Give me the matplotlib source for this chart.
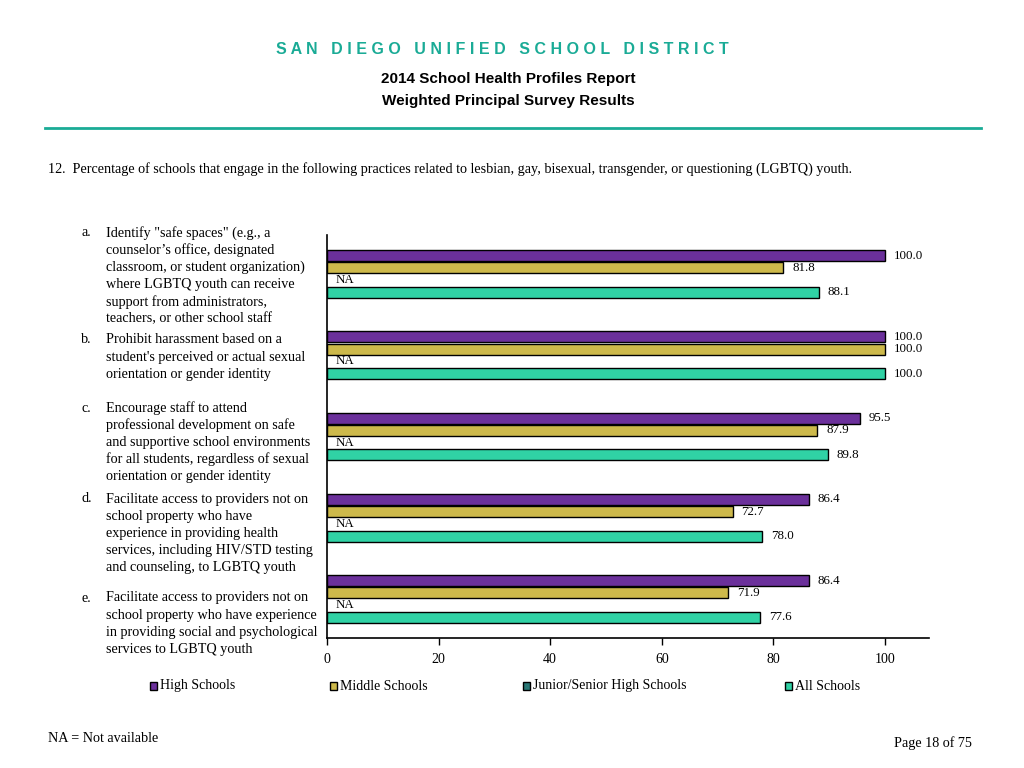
import matplotlib
matplotlib.use("Agg")
import matplotlib.pyplot as plt
from matplotlib.patches import Rectangle
from matplotlib.lines import Line2D

# ---- data ----
series = ["High Schools", "Middle Schools", "Junior/Senior High Schools", "All Schools"]
colors = ["#6b309b", "#cdb94b", "#2a7876", "#30d2a5"]
high_schools = [100.0, 100.0, 95.5, 86.4, 86.4]
middle_schools = [81.8, 100.0, 87.9, 72.7, 71.9]
junior_senior = [None, None, None, None, None]  # NA
all_schools = [88.1, 100.0, 89.8, 78.0, 77.6]
item_letters = ["a.", "b.", "c.", "d.", "e."]
item_lines = [
    ['Identify "safe spaces" (e.g., a', "counselor\u2019s office, designated",
     "classroom, or student organization)", "where LGBTQ youth can receive",
     "support from administrators,", "teachers, or other school staff"],
    ["Prohibit harassment based on a", "student's perceived or actual sexual",
     "orientation or gender identity"],
    ["Encourage staff to attend", "professional development on safe",
     "and supportive school environments", "for all students, regardless of sexual",
     "orientation or gender identity"],
    ["Facilitate access to providers not on", "school property who have",
     "experience in providing health", "services, including HIV/STD testing",
     "and counseling, to LGBTQ youth"],
    ["Facilitate access to providers not on", "school property who have experience",
     "in providing social and psychological", "services to LGBTQ youth"],
]
xticks = [0, 20, 40, 60, 80, 100]

W, H = 1024, 768
fig = plt.figure(figsize=(W / 100, H / 100), dpi=100)
serif = ["Liberation Serif", "DejaVu Serif"]
sans = ["Liberation Sans", "DejaVu Sans"]

def fx(x):
    return x / W

def fy(y):
    return 1 - y / H

# header
fig.text(fx(502), fy(50), "S A N   D I E G O   U N I F I E D   S C H O O L   D I S T R I C T",
         ha="center", va="center", color="#1aab96", fontsize=11.5, fontweight="bold", family=sans)
fig.text(fx(508), fy(79), "2014 School Health Profiles Report", ha="center", va="center",
         fontsize=11, fontweight="bold", family=sans)
fig.text(fx(508), fy(101), "Weighted Principal Survey Results", ha="center", va="center",
         fontsize=11, fontweight="bold", family=sans)
fig.add_artist(Line2D([fx(45), fx(981)], [fy(128), fy(128)], color="#1aab96", lw=2,
                      transform=fig.transFigure))
fig.text(fx(48), fy(169), "12.  Percentage of schools that engage in the following practices related to lesbian, gay, bisexual, transgender, or questioning (LGBTQ) youth.",
         ha="left", va="center", fontsize=10.2, family=serif)

# axes
ax = fig.add_axes([fx(327), fy(638), fx(929) - fx(327), (638 - 235) / H])
offsets = [-0.225, -0.075, 0.075, 0.225]
bh = 0.135
all_series = [high_schools, middle_schools, junior_senior, all_schools]
for s, (vals, c) in enumerate(zip(all_series, colors)):
    for i, v in enumerate(vals):
        y = i + offsets[s]
        if v is None:
            ax.text(1.5, y, "NA", ha="left", va="center", fontsize=9.3, family=serif)
        else:
            ax.barh(y, v, height=bh, color=c, edgecolor="black", linewidth=1)
            ax.text(v + 1.6, y, f"{v:.1f}", ha="left", va="center", fontsize=9.3, family=serif)

ax.set_xlim(0, 107.9)
ax.set_ylim(4.48, -0.48)
ax.set_xticks(xticks)
ax.set_xticklabels([str(t) for t in xticks], fontsize=10, family=serif)
ax.set_yticks([])
for sp in ["top", "right"]:
    ax.spines[sp].set_visible(False)
ax.spines["left"].set_linewidth(1.2)
ax.spines["bottom"].set_linewidth(1.2)
ax.tick_params(axis="x", direction="out", length=5, width=1, pad=6)

# item labels
starts = [233, 340, 408, 499, 598]
for letter, lines, y0 in zip(item_letters, item_lines, starts):
    fig.text(fx(81), fy(y0), letter, ha="left", va="center", fontsize=10.2, family=serif)
    for k, line in enumerate(lines):
        fig.text(fx(106), fy(y0 + 17.2 * k), line, ha="left", va="center",
                 fontsize=10.2, family=serif)

# legend
leg_x = [150, 330, 523, 785]
for name, c, x in zip(series, colors, leg_x):
    fig.add_artist(Rectangle((fx(x), fy(690)), 7 / W, 8 / H, facecolor=c, edgecolor="black",
                             lw=1, transform=fig.transFigure))
    fig.text(fx(x + 10), fy(686), name, ha="left", va="center", fontsize=10, family=serif)

# footer
fig.text(fx(48), fy(739), "NA = Not available", ha="left", va="center", fontsize=10.2, family=serif)
fig.text(fx(972), fy(743), "Page 18 of 75", ha="right", va="center", fontsize=10.2, family=serif)

fig.savefig("out.png", dpi=100)
